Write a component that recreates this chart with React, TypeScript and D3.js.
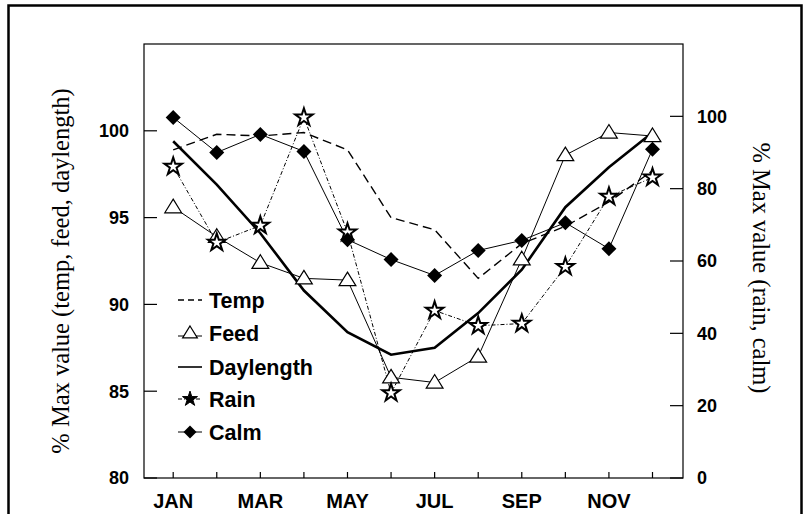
import React from "react";
import * as d3 from "d3";

const months = [1, 2, 3, 4, 5, 6, 7, 8, 9, 10, 11, 12];
const monthLabels = ["JAN", "", "MAR", "", "MAY", "", "JUL", "", "SEP", "", "NOV", ""];
const leftTicks = [80, 85, 90, 95, 100];
const rightTicks = [0, 20, 40, 60, 80, 100];

const temp = [98.9, 99.8, 99.7, 99.9, 98.9, 95.0, 94.3, 91.5, 93.5, 94.5, 95.9, 97.7];
const feed = [95.6, 93.9, 92.4, 91.5, 91.4, 85.8, 85.5, 87.0, 92.6, 98.6, 99.9, 99.7];
const daylength = [99.4, 96.9, 94.1, 90.8, 88.4, 87.1, 87.5, 89.5, 92.0, 95.6, 97.9, 99.9];
const rain = [86.1, 65.1, 69.8, 99.7, 67.9, 23.5, 46.3, 42.1, 42.7, 58.4, 77.8, 83.1];
const calm = [99.7, 90.0, 95.0, 90.3, 65.9, 60.4, 56.0, 62.9, 65.7, 70.6, 63.4, 90.9];

const legendItems = ["Temp", "Feed", "Daylength", "Rain", "Calm"];

const L = 144, R = 683, T = 44, B = 478;

export default function App() {
  const x = d3.scaleLinear().domain([0.33, 12.7]).range([L, R]);
  const yL = d3.scaleLinear().domain([80, 105]).range([B, T]);
  const yR = d3.scaleLinear().domain([0, 120]).range([B, T]);

  const lineL = d3.line<number>().x((_, i) => x(months[i])).y((d) => yL(d));
  const lineR = d3.line<number>().x((_, i) => x(months[i])).y((d) => yR(d));

  const starPath = d3.symbol().type(d3.symbolStar).size(95)() as string;
  const starSmall = d3.symbol().type(d3.symbolStar).size(70)() as string;
  const diamondPath = (cx: number, cy: number, r: number) =>
    `M${cx},${cy - r}L${cx + r},${cy}L${cx},${cy + r}L${cx - r},${cy}Z`;
  const triPath = (cx: number, cy: number, r: number) =>
    `M${cx},${cy - r}L${cx + r * 1.05},${cy + r * 0.7}L${cx - r * 1.05},${cy + r * 0.7}Z`;

  const numFont = { fontFamily: "Liberation Sans, Arial, sans-serif", fontWeight: 700, fontSize: 18 };
  const monFont = { fontFamily: "Liberation Sans, Arial, sans-serif", fontWeight: 700, fontSize: 20 };
  const legendY = [300, 333, 367, 399, 432];

  return (
    <svg width={808} height={514} style={{ position: "absolute", left: 0, top: 0, background: "#fff" }}>
      <rect x={0} y={0} width={808} height={514} fill="#fff" />
      {/* outer frame */}
      <rect x={8.5} y={5.5} width={793} height={530} fill="none" stroke="#000" strokeWidth={2.5} />
      {/* plot box */}
      <rect x={L} y={T} width={R - L} height={B - T} fill="none" stroke="#000" strokeWidth={1.2} />

      {/* left ticks */}
      {leftTicks.map((t) => (
        <g key={"l" + t}>
          <line x1={L} x2={L + 13} y1={yL(t)} y2={yL(t)} stroke="#000" strokeWidth={1.2} />
          <text x={129} y={yL(t)} dy="0.36em" textAnchor="end" {...numFont}>{t}</text>
        </g>
      ))}
      {/* right ticks */}
      {rightTicks.map((t) => (
        <g key={"r" + t}>
          <line x1={R - 13} x2={R} y1={yR(t)} y2={yR(t)} stroke="#000" strokeWidth={1.2} />
          <text x={697} y={yR(t)} dy="0.36em" textAnchor="start" {...numFont}>{t}</text>
        </g>
      ))}
      {/* x ticks */}
      {months.map((m, i) => (
        <g key={"x" + m}>
          <line x1={x(m)} x2={x(m)} y1={B} y2={B - 6} stroke="#000" strokeWidth={1.2} />
          {monthLabels[i] && (
            <text x={x(m)} y={508} textAnchor="middle" {...monFont}>{monthLabels[i]}</text>
          )}
        </g>
      ))}

      {/* axis titles */}
      <text
        transform="translate(69,271) rotate(-90)"
        textAnchor="middle"
        fontFamily="Liberation Serif, Times New Roman, serif"
        fontSize={24.5}
      >
        % Max value (temp, feed, daylength)
      </text>
      <text
        transform="translate(753,268) rotate(90)"
        textAnchor="middle"
        fontFamily="Liberation Serif, Times New Roman, serif"
        fontSize={24.5}
      >
        % Max value (rain, calm)
      </text>

      {/* series lines */}
      <path d={lineL(temp) as string} fill="none" stroke="#000" strokeWidth={1.4} strokeDasharray="9,5" />
      <path d={lineL(daylength) as string} fill="none" stroke="#000" strokeWidth={2.6} />
      <path d={lineL(feed) as string} fill="none" stroke="#000" strokeWidth={1} />
      <path d={lineR(rain) as string} fill="none" stroke="#000" strokeWidth={1} strokeDasharray="4,2,1,2" />
      <path d={lineR(calm) as string} fill="none" stroke="#000" strokeWidth={1} />

      {/* markers */}
      {feed.map((v, i) => (
        <path key={"f" + i} d={triPath(x(months[i]), yL(v), 8)} fill="#fff" stroke="#000" strokeWidth={1.2} />
      ))}
      {rain.map((v, i) => (
        <path key={"s" + i} d={starPath} transform={`translate(${x(months[i])},${yR(v)})`} fill="#fff" stroke="#000" strokeWidth={2} />
      ))}
      {calm.map((v, i) => (
        <path key={"c" + i} d={diamondPath(x(months[i]), yR(v), 7.5)} fill="#000" />
      ))}

      {/* legend */}
      {legendItems.map((name, i) => {
        const ly = legendY[i];
        const x1 = 178, x2 = 202, cx = 190;
        return (
          <g key={name}>
            {i === 0 && <line x1={x1} x2={x2} y1={ly} y2={ly} stroke="#000" strokeWidth={1.4} strokeDasharray="6,4" />}
            {i === 1 && (
              <g>
                <line x1={x1} x2={x2} y1={ly + 3} y2={ly + 3} stroke="#000" strokeWidth={1} />
                <path d={triPath(cx, ly, 7)} fill="#fff" stroke="#000" strokeWidth={1.2} />
              </g>
            )}
            {i === 2 && <line x1={x1} x2={x2} y1={ly} y2={ly} stroke="#000" strokeWidth={1.6} />}
            {i === 3 && (
              <g>
                <line x1={x1} x2={x2} y1={ly} y2={ly} stroke="#000" strokeWidth={1} strokeDasharray="4,2,1,2" />
                <path d={starSmall} transform={`translate(${cx},${ly})`} fill="#000" stroke="#000" strokeWidth={1} />
              </g>
            )}
            {i === 4 && (
              <g>
                <line x1={x1} x2={x2} y1={ly} y2={ly} stroke="#000" strokeWidth={1} />
                <path d={diamondPath(cx, ly, 6.5)} fill="#000" />
              </g>
            )}
            <text x={209} y={ly} dy="0.36em" fontFamily="Liberation Sans, Arial, sans-serif" fontWeight={700} fontSize={21.5}>
              {name}
            </text>
          </g>
        );
      })}
    </svg>
  );
}
